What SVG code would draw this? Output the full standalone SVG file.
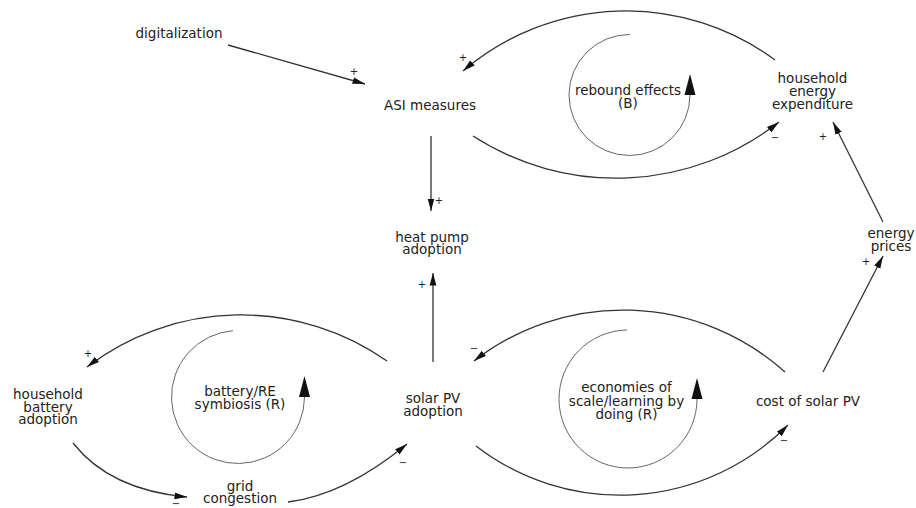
<svg xmlns="http://www.w3.org/2000/svg" width="916" height="508" viewBox="0 0 916 508">
<style>
.lbl{font-family:"DejaVu Sans","Verdana",sans-serif;font-size:13.5px;fill:#222;text-anchor:middle}
.pol{font-family:"DejaVu Sans",sans-serif;font-size:10px;fill:#222;text-anchor:middle}
.link{fill:none;stroke:#333;stroke-width:1.3;marker-end:url(#arr)}
.loop{fill:none;stroke:#666;stroke-width:1;marker-end:url(#loopArr)}
</style>
<defs>
<marker id="arr" viewBox="0 0 13 8" refX="12.5" refY="4" markerWidth="13" markerHeight="8" markerUnits="userSpaceOnUse" orient="auto">
<path d="M0,0.6 L12.5,4 L0,7.4 z" fill="#111"/>
</marker>
<marker id="loopArr" viewBox="0 0 22 12" refX="0" refY="6" markerWidth="22" markerHeight="12" markerUnits="userSpaceOnUse" orient="auto">
<path d="M0,0.5 L21,6 L0,11.5 z" fill="#111"/>
</marker>
</defs>
<rect width="916" height="508" fill="#fff"/>

<g id="connectors">
<path class="link" d="M228,45 L365,84"/>
<path class="link" d="M775,60 A251,251 0 0 0 463,71"/>
<path class="link" d="M473,136 A264,264 0 0 0 779,122"/>
<path class="link" d="M431,136 L431,211"/>
<path class="link" d="M433,362 L433,273"/>
<path class="link" d="M883,222 L833,122"/>
<path class="link" d="M823,372 L883,256"/>
<path class="link" d="M785,372 A243,243 0 0 0 474,361"/>
<path class="link" d="M476,446 A236,236 0 0 0 788,425"/>
<path class="link" d="M387,361 A254,254 0 0 0 87,367"/>
<path class="link" d="M73,443 Q110,490 187,497"/>
<path class="link" d="M288,502 Q345,495 407,444"/>
<text class="pol" x="354" y="74.5">+</text>
<text class="pol" x="463" y="60.5">+</text>
<text class="pol" x="439" y="203.5">+</text>
<text class="pol" x="422" y="287.5">+</text>
<text class="pol" x="88" y="356.5">+</text>
<text class="pol" x="176" y="507">−</text>
<text class="pol" x="403" y="465.5">−</text>
<text class="pol" x="474" y="351.5">−</text>
<text class="pol" x="784" y="443.5">−</text>
<text class="pol" x="775" y="140.5">−</text>
<text class="pol" x="823" y="139.5">+</text>
<text class="pol" x="866" y="264.5">+</text>
</g>

<g id="loop-rebound">
<path class="loop" d="M630,34.5 A60.5,60.5 0 1 0 690,95"/>
<text class="lbl" x="628" y="95">rebound effects<tspan x="628" dy="13">(B)</tspan></text>
</g>
<g id="loop-economies">
<path class="loop" d="M627,330 A69,69 0 1 0 697,399"/>
<text class="lbl" x="626.5" y="392">economies of<tspan x="626.5" dy="13.5">scale/learning by</tspan><tspan x="626.5" dy="13.5">doing (R)</tspan></text>
</g>
<g id="loop-battery">
<path class="loop" d="M233,330.7 A66.5,66.5 0 1 0 304.5,397"/>
<text class="lbl" x="240" y="396">battery/RE<tspan x="240" dy="12.5">symbiosis (R)</tspan></text>
</g>

<g id="digitalization"><text class="lbl" x="179" y="38">digitalization</text></g>
<g id="asi-measures"><text class="lbl" x="430" y="110">ASI measures</text></g>
<g id="heat-pump-adoption">
<text class="lbl" x="432" y="241.5">heat pump<tspan x="432" dy="12.5">adoption</tspan></text>
</g>
<g id="household-energy-expenditure">
<text class="lbl" x="812.5" y="83">household<tspan x="812.5" dy="13">energy</tspan><tspan x="812.5" dy="13">expenditure</tspan></text>
</g>
<g id="energy-prices">
<text class="lbl" x="891" y="238">energy<tspan x="891" dy="13">prices</tspan></text>
</g>
<g id="solar-pv-adoption">
<text class="lbl" x="433" y="403">solar PV<tspan x="433" dy="12.5">adoption</tspan></text>
</g>
<g id="cost-of-solar-pv"><text class="lbl" x="808" y="406">cost of solar PV</text></g>
<g id="household-battery-adoption">
<text class="lbl" x="48" y="399">household<tspan x="48" dy="12.5">battery</tspan><tspan x="48" dy="12.5">adoption</tspan></text>
</g>
<g id="grid-congestion">
<text class="lbl" x="240" y="490.5">grid<tspan x="240" dy="12.5">congestion</tspan></text>
</g>
</svg>
